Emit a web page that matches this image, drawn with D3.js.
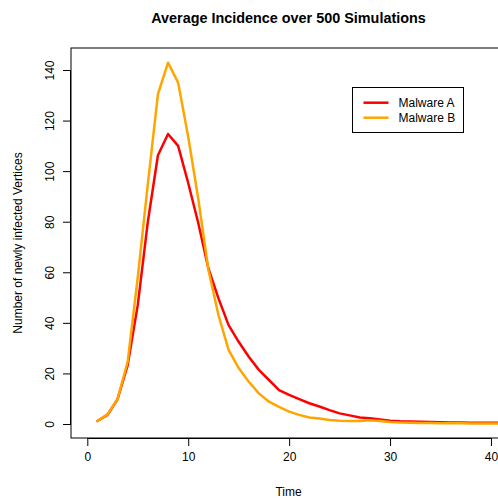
<!DOCTYPE html>
<html>
<head>
<meta charset="utf-8">
<script src="https://cdn.jsdelivr.net/npm/d3@7/dist/d3.min.js"></script>
<style>
  html, body { margin: 0; padding: 0; background: #fff; }
  svg { display: block; }
  text { font-family: "Liberation Sans", Arial, Helvetica, sans-serif; }
</style>
</head>
<body>
<svg id="chart" width="498" height="498"></svg>
<script>
const titleText = "Average Incidence over 500 Simulations";
const xLabel = "Time";
const yLabel = "Number of newly infected Vertices";
const seriesNames = ["Malware A", "Malware B"];
const seriesColors = ["#FF0000", "#FFA500"];
const xTicks = [0, 10, 20, 30, 40];
const yTicks = [0, 20, 40, 60, 80, 100, 120, 140];
const time = [1,2,3,4,5,6,7,8,9,10,11,12,13,14,15,16,17,18,19,20,21,22,23,24,25,26,27,28,29,30,31,32,33,34,35,36,37,38,39,40,41];
const malwareA = [1.2, 3.6, 9.8, 23.3, 47, 80, 106.3, 114.7, 110, 95.3, 79.4, 61.5, 49.7, 39.1, 32.5, 26.6, 21.4, 17.4, 13.4, 11.5, 9.8, 8.2, 6.9, 5.5, 4.2, 3.4, 2.6, 2.3, 1.8, 1.3, 1.1, 1.0, 0.9, 0.8, 0.7, 0.6, 0.6, 0.5, 0.5, 0.5, 0.5];
const malwareB = [1.2, 3.8, 9.9, 24.6, 58, 95, 130.5, 142.9, 135, 113.6, 89, 61, 43, 29.3, 22.1, 16.7, 12.1, 8.8, 6.8, 4.9, 3.6, 2.6, 2.2, 1.6, 1.3, 1.2, 1.2, 1.5, 1.2, 0.8, 0.6, 0.5, 0.4, 0.4, 0.3, 0.3, 0.3, 0.2, 0.2, 0.2, 0.2];

const svg = d3.select("#chart");
const pL = 71, pR = 506, pT = 48, pB = 438;

const x = d3.scaleLinear().domain([-1.615, 41.49]).range([pL, pR]);
const y = d3.scaleLinear().domain([-5.54, 148.7]).range([pB, pT]);

svg.append("defs").append("clipPath").attr("id", "plotclip")
  .append("rect").attr("x", pL).attr("y", pT).attr("width", pR - pL).attr("height", pB - pT);

// lines
const series = [malwareA, malwareB];
const line = d3.line().x((d, i) => x(time[i])).y(d => y(d));
series.forEach((s, k) => {
  svg.append("path")
    .datum(s)
    .attr("clip-path", "url(#plotclip)")
    .attr("fill", "none")
    .attr("stroke", seriesColors[k])
    .attr("stroke-width", 2.5)
    .attr("stroke-linejoin", "round")
    .attr("stroke-linecap", "round")
    .attr("d", line);
});

// box
svg.append("rect").attr("x", pL).attr("y", pT).attr("width", pR - pL).attr("height", pB - pT)
  .attr("fill", "none").attr("stroke", "#000").attr("stroke-width", 1);

// x axis
const xAxis = d3.axisBottom(x).tickValues(xTicks).tickSize(8).tickPadding(6).tickFormat(d3.format("d"));
const gx = svg.append("g").attr("transform", `translate(0,${pB})`).call(xAxis);
gx.select(".domain").attr("d", `M${x(xTicks[0])},0.5H${x(xTicks[xTicks.length-1])}`);
gx.selectAll("text").attr("font-size", 12).attr("fill", "#000").style("font-family", '"Liberation Sans", Arial, sans-serif');

// y axis
const yAxis = d3.axisLeft(y).tickValues(yTicks).tickSize(8).tickFormat(d3.format("d"));
const gy = svg.append("g").attr("transform", `translate(${pL},0)`).call(yAxis);
gy.select(".domain").attr("d", `M-0.5,${y(yTicks[0])}V${y(yTicks[yTicks.length-1])}`);
gy.selectAll(".tick text")
  .attr("x", null).attr("dy", null)
  .attr("text-anchor", "middle")
  .attr("transform", "translate(-17,0) rotate(-90)")
  .attr("y", 0)
  .attr("font-size", 12).attr("fill", "#000")
  .style("font-family", '"Liberation Sans", Arial, sans-serif');

// title
svg.append("text").attr("x", (pL + pR) / 2).attr("y", 23)
  .attr("text-anchor", "middle").attr("font-size", 14.4).attr("font-weight", "bold").text(titleText);

// x label
svg.append("text").attr("x", (pL + pR) / 2).attr("y", 496)
  .attr("text-anchor", "middle").attr("font-size", 12).text(xLabel);

// y label
svg.append("text").attr("transform", `translate(22,${(pT + pB) / 2}) rotate(-90)`)
  .attr("text-anchor", "middle").attr("font-size", 12).text(yLabel);

// legend
const lg = svg.append("g");
lg.append("rect").attr("x", 352.5).attr("y", 87.5).attr("width", 111).attr("height", 45)
  .attr("fill", "#fff").attr("stroke", "#000").attr("stroke-width", 1);
seriesNames.forEach((n, k) => {
  const ly = 102.7 + k * 15;
  lg.append("line").attr("x1", 363.5).attr("x2", 388.5).attr("y1", ly).attr("y2", ly)
    .attr("stroke", seriesColors[k]).attr("stroke-width", 2.5);
  lg.append("text").attr("x", 398.5).attr("y", ly + 4.3).attr("font-size", 12).text(n);
});
</script>
</body>
</html>
